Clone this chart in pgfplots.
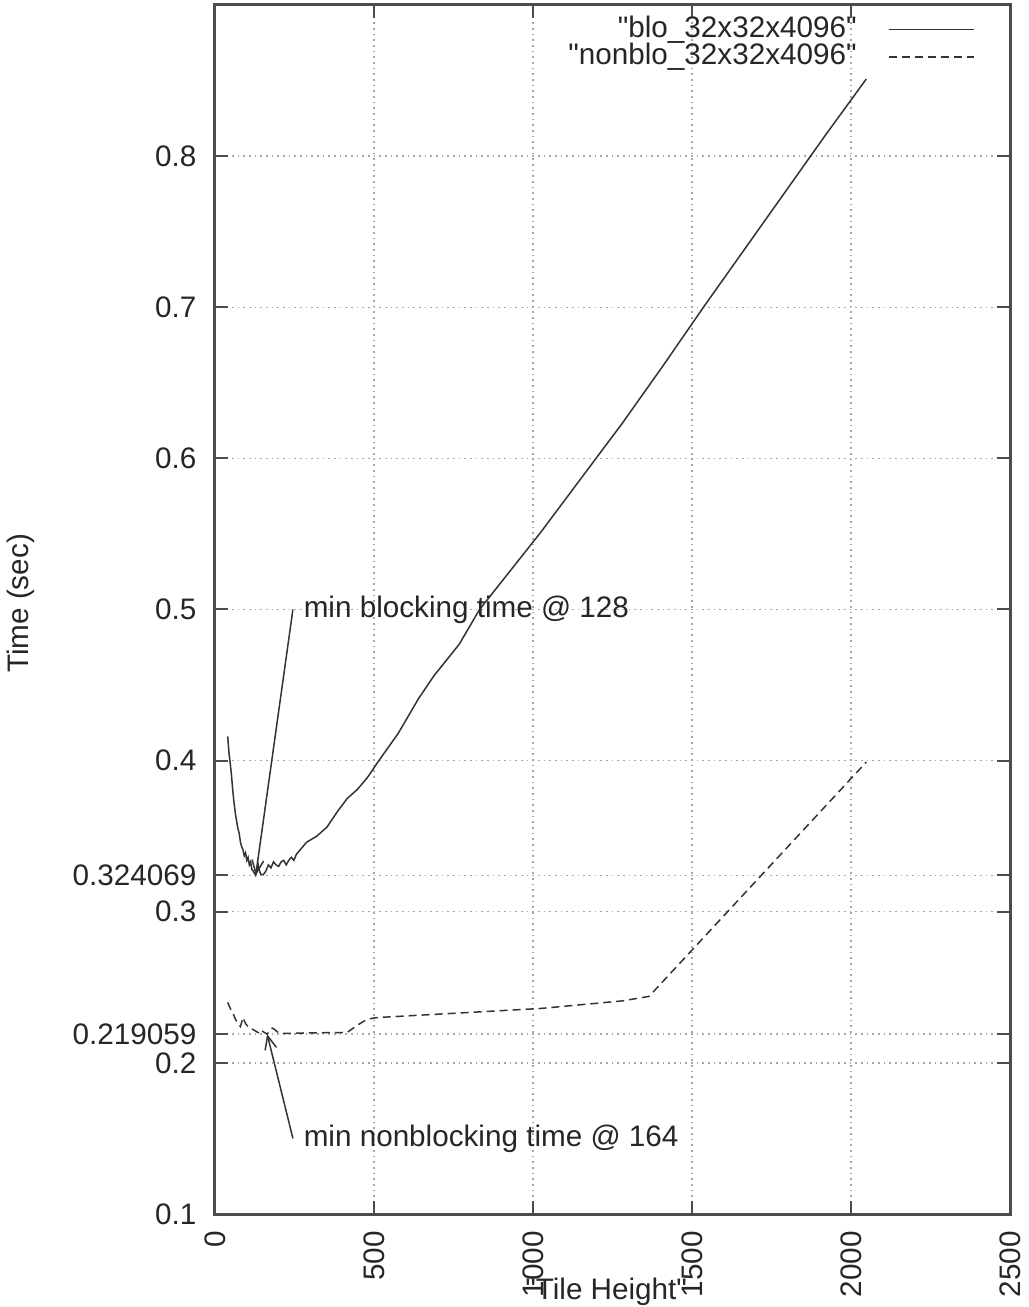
\documentclass[border=0pt]{standalone}
\usepackage{fontspec}
\setmainfont{Liberation Sans}
\usepackage{pgfplots}
\pgfplotsset{compat=1.18}
\usetikzlibrary{arrows.meta}

\begin{document}
\begin{tikzpicture}[font=\fontsize{8.9pt}{10.7pt}\selectfont]
  \begin{axis}[
    scale only axis=true,
    width=238.5pt, height=362.7pt,
    xmin=0, xmax=2500,
    ymin=0.1, ymax=0.9,
    xtick={0,500,1000,1500,2000,2500},
    xticklabels={0\kern5pt,500\kern5pt,1000\kern5pt,1500\kern5pt,2000\kern5pt,2500\kern5pt},
    ytick={0.1,0.2,0.219059,0.3,0.324069,0.4,0.5,0.6,0.7,0.8},
    yticklabels={0.1,0.2,0.219059,0.3,0.324069,0.4,0.5,0.6,0.7,0.8},
    tick align=inside,
    major tick length=4pt,
    xmajorgrids, ymajorgrids,
    grid style={black!35,line width=0.4pt,dash pattern=on 0.5pt off 1.2pt},
    axis line style={black!70,line width=0.9pt},
    tick style={black!70,line width=0.6pt},
    x tick label style={rotate=90,anchor=east,inner sep=0pt,text=black!85},
    y tick label style={anchor=east,inner sep=0pt,xshift=-5.4pt,text=black!85},
    xlabel={\textquotedbl Tile Height\textquotedbl},
    ylabel={Time (sec)},
    xlabel style={at={(axis description cs:0.492,-0.0645)},anchor=center,inner sep=0pt,text=black!85},
    ylabel style={at={(axis description cs:-0.244,0.505)},anchor=center,inner sep=0pt,text=black!85},
    legend style={
      draw=none, fill=none, inner sep=0pt,
      at={(axis description cs:0.956,0.9915)},
      anchor=north east,
      row sep=0pt, column sep=9pt,
      nodes={inner sep=0.35pt,text height=6pt,text depth=1.5pt,text=black!85},
    },
    legend plot pos=right,
    legend cell align=right,
    legend image code/.code={\draw[#1] (0pt,0pt) -- (25.5pt,0pt);},
  ]

  % blocking
  \addplot[black!80,line width=0.45pt] coordinates {
    (40,0.416) (44,0.405) (48,0.398) (52,0.390) (56,0.380) (60,0.372)
    (64,0.365) (68,0.360) (72,0.355) (76,0.352) (80,0.346) (84,0.343)
    (88,0.341) (92,0.337) (96,0.339) (100,0.334) (104,0.336) (108,0.331)
    (112,0.333) (116,0.328) (120,0.327) (124,0.3255) (128,0.324069)
    (132,0.327) (136,0.331) (140,0.327) (144,0.3248) (152,0.3245)
    (160,0.327) (168,0.331) (176,0.329) (184,0.333) (192,0.331)
    (200,0.330) (208,0.333) (216,0.334) (224,0.331) (232,0.334)
    (240,0.336) (248,0.334) (256,0.338) (272,0.342) (288,0.346)
    (304,0.348) (320,0.350) (352,0.356) (384,0.366) (416,0.375)
    (448,0.381) (480,0.389) (512,0.399) (576,0.418) (640,0.441)
    (688,0.456) (768,0.477) (832,0.500) (896,0.517) (1024,0.551)
    (1152,0.587) (1280,0.623) (1408,0.661) (1536,0.700) (1664,0.738)
    (1792,0.776) (1920,0.814) (2048,0.851)
  };
  \addlegendentry{\textquotedbl blo\_32x32x4096\textquotedbl}

  % nonblocking
  \addplot[black!80,line width=0.45pt,dash pattern=on 2.4pt off 1.5pt] coordinates {
    (40,0.240) (48,0.236) (56,0.233) (64,0.229) (72,0.226) (80,0.224)
    (88,0.230) (96,0.226) (104,0.224) (112,0.223) (120,0.222) (128,0.221)
    (136,0.220) (144,0.222) (152,0.2205) (164,0.219059) (172,0.221)
    (180,0.223) (188,0.222) (196,0.2205) (208,0.2195) (224,0.2195)
    (256,0.2197) (320,0.2199) (384,0.2200) (416,0.2202) (448,0.225)
    (480,0.229) (512,0.230) (640,0.2315) (768,0.233) (1024,0.236)
    (1280,0.241) (1365,0.244) (2048,0.399)
  };
  \addlegendentry{\textquotedbl nonblo\_32x32x4096\textquotedbl}

  \draw[black!80,line width=0.45pt,-{Straight Barb[length=4pt,width=3.5pt]}]
    (axis cs:245,0.5) -- (axis cs:128,0.324069);
  \node[anchor=west,inner sep=0pt,text=black!85] at (axis cs:277,0.5)
    {min blocking time @ 128};
  \draw[black!80,line width=0.45pt,-{Straight Barb[length=4pt,width=3.5pt]}]
    (axis cs:245,0.15) -- (axis cs:164,0.219059);
  \node[anchor=west,inner sep=0pt,text=black!85] at (axis cs:277,0.15)
    {min nonblocking time @ 164};
  \end{axis}
  \path (current axis.south west) ++(-64.5pt,-27.9pt);
  \path (current axis.north east) ++(5.4pt,1.5pt);
\end{tikzpicture}
\end{document}
